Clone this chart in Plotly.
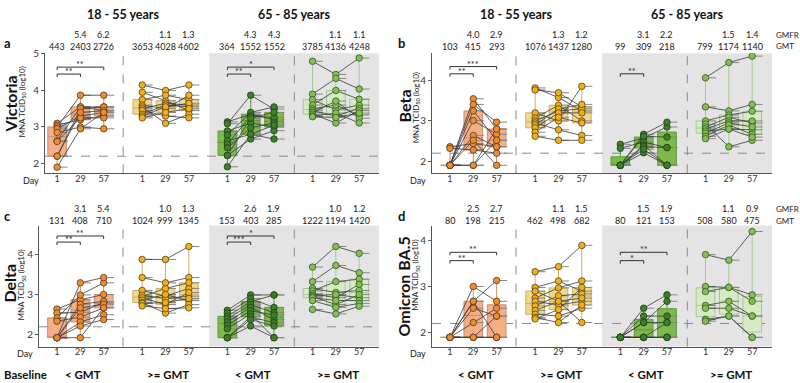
import plotly.graph_objects as go

W, H = 800, 383
FONT = "Lato"

# ---------------- labels ----------------
day_labels = ["1", "29", "57"]
group_labels = ["< GMT", ">= GMT", "< GMT", ">= GMT"]
age_labels = ["18 - 55 years", "65 - 85 years"]
variants = ["Victoria", "Beta", "Delta", "Omicron BA.5"]
panel_letters = ["a", "b", "c", "d"]
LLOQ = 2.2

# ---------------- data (log10 MNA TCID50), per subject, [day1, day29, day57] ----------------
# Panel a - Victoria
vic_young_low = [[3.1, 3.05, 3.0, 2.95, 2.85, 2.62, 2.6, 2.2, 2.2, 1.9],
                 [3.55, 3.2, 3.87, 3.3, 3.0, 3.55, 3.25, 3.5, 3.4, 2.95],
                 [3.45, 3.3, 3.87, 3.4, 2.95, 3.55, 3.25, 3.55, 3.45, 3.4]]
vic_young_high = [[4.15, 3.95, 3.75, 3.6, 3.55, 3.5, 3.45, 3.35, 3.3, 3.25],
                  [4.0, 3.72, 3.87, 3.5, 3.1, 3.65, 3.3, 3.6, 3.55, 3.4],
                  [4.15, 3.45, 3.75, 3.87, 3.35, 3.6, 3.25, 3.55, 3.65, 3.5]]
vic_old_low = [[3.14, 3.09, 2.89, 2.78, 2.62, 2.53, 2.43, 2.22, 2.22, 1.91],
               [3.35, 3.87, 3.11, 3.4, 2.8, 3.3, 2.98, 3.24, 2.67, 2.8],
               [3.2, 3.49, 3.0, 3.55, 2.67, 3.26, 3.11, 3.4, 2.9, 3.05]]
vic_old_high = [[4.8, 3.9, 3.75, 3.6, 3.5, 3.45, 3.4, 3.35, 3.3, 3.28],
                [4.44, 4.33, 3.47, 4.0, 3.6, 3.3, 3.71, 3.11, 3.38, 3.26],
                [4.89, 4.04, 3.6, 3.76, 3.33, 3.51, 3.24, 3.45, 3.11, 3.38]]
# Panel b - Beta
beta_young_low = [[2.36, 2.32, 1.9, 1.9, 1.9, 1.9, 1.9, 1.9, 1.9, 1.9],
                  [2.44, 2.28, 3.55, 3.41, 3.25, 3.01, 2.64, 2.52, 1.9, 1.9],
                  [2.36, 2.2, 2.8, 2.97, 2.52, 2.67, 2.36, 1.9, 2.52, 2.8]]
beta_young_high = [[3.82, 3.77, 3.2, 3.07, 3.0, 2.95, 2.9, 2.83, 2.72, 2.62],
                   [3.58, 3.7, 3.0, 3.39, 3.25, 2.78, 3.3, 3.2, 3.09, 2.52],
                   [3.25, 3.35, 3.86, 3.0, 3.3, 2.64, 3.41, 3.2, 2.95, 2.52]]
beta_old_low = [[2.42, 2.32, 1.9, 1.9, 1.9, 1.9, 1.9, 1.9],
                [2.58, 2.48, 2.67, 2.62, 2.4, 2.36, 2.21, 2.3],
                [2.85, 2.34, 2.97, 2.6, 1.9, 2.34, 1.9, 1.9]]
beta_old_high = [[4.07, 3.35, 3.0, 2.92, 2.85, 2.8, 2.75, 2.7, 2.62, 2.56],
                 [4.45, 3.25, 3.15, 2.36, 3.09, 3.0, 2.8, 2.95, 2.9, 2.8],
                 [4.61, 3.41, 3.24, 2.52, 2.95, 3.0, 2.78, 2.85, 2.67, 2.6]]
# Panel c - Delta
delta_young_low = [[2.64, 2.54, 2.42, 2.34, 1.93, 1.93, 1.93, 1.93, 1.93, 1.93],
                   [2.87, 2.56, 2.99, 2.44, 3.29, 2.76, 2.67, 2.32, 2.22, 1.93],
                   [3.0, 2.8, 3.29, 2.67, 3.42, 2.83, 2.76, 2.5, 2.38, 2.67]]
delta_young_high = [[3.87, 3.42, 3.1, 2.95, 2.98, 2.92, 2.86, 2.8, 2.78, 2.72],
                    [3.87, 3.29, 2.96, 3.15, 2.9, 2.75, 3.0, 2.54, 2.8, 2.65],
                    [4.19, 3.42, 3.15, 3.29, 2.96, 3.05, 2.85, 2.75, 2.9, 2.67]]
delta_old_low = [[2.61, 2.54, 2.46, 2.4, 2.32, 2.24, 2.15, 1.93, 1.93, 1.93],
                 [2.99, 2.9, 2.82, 2.75, 2.68, 2.6, 2.52, 2.45, 2.38, 2.22],
                 [2.99, 2.68, 2.99, 2.55, 2.38, 2.49, 1.93, 2.3, 2.22, 1.93]]
delta_old_high = [[3.68, 3.32, 3.15, 3.09, 3.02, 2.98, 2.95, 2.92, 2.85, 2.63],
                  [4.19, 3.72, 3.05, 3.32, 2.92, 3.0, 2.75, 2.85, 2.68, 2.52],
                  [4.02, 3.54, 3.1, 3.38, 3.25, 2.92, 3.0, 2.85, 2.78, 2.71]]
# Panel d - Omicron BA.5
omi_young_low = [[1.9, 1.9, 1.9, 1.9, 1.9, 1.9, 1.9, 1.9],
                 [3.0, 2.68, 2.53, 2.22, 1.9, 1.9, 2.68, 1.9],
                 [2.68, 3.13, 2.36, 2.53, 2.36, 1.9, 1.9, 1.9]]
omi_young_high = [[3.32, 2.98, 2.9, 2.75, 2.68, 2.58, 2.48, 2.4, 2.33, 2.3],
                  [3.43, 3.12, 2.68, 2.97, 2.6, 2.8, 2.68, 2.36, 2.22, 2.5],
                  [3.89, 2.9, 2.22, 3.12, 2.68, 2.84, 2.75, 2.53, 2.6, 2.98]]
omi_old_low = [[1.9, 1.9, 1.9, 1.9, 1.9, 1.9, 1.9, 1.9],
               [2.53, 2.36, 2.22, 1.9, 1.9, 2.22, 1.9, 1.9],
               [2.82, 2.36, 2.68, 2.22, 1.9, 2.22, 1.9, 1.9]]
omi_old_high = [[3.69, 3.0, 2.89, 2.59, 2.53, 2.29, 2.25],
                [3.57, 2.98, 2.98, 2.68, 2.53, 2.36, 2.36],
                [4.19, 2.82, 2.68, 2.36, 2.36, 1.9, 1.9]]

# GMT / GMFR rows (12 columns: 4 groups x 3 days)
gmt_a = [443, 2403, 2726, 3653, 4028, 4602, 364, 1552, 1552, 3785, 4136, 4248]
gmfr_a = ["", "5.4", "6.2", "", "1.1", "1.3", "", "4.3", "4.3", "", "1.1", "1.1"]
gmt_b = [103, 415, 293, 1076, 1437, 1280, 99, 309, 218, 799, 1174, 1140]
gmfr_b = ["", "4.0", "2.9", "", "1.3", "1.2", "", "3.1", "2.2", "", "1.5", "1.4"]
gmt_c = [131, 408, 710, 1024, 999, 1345, 153, 403, 285, 1222, 1194, 1420]
gmfr_c = ["", "3.1", "5.4", "", "1.0", "1.3", "", "2.6", "1.9", "", "1.0", "1.2"]
gmt_d = [80, 198, 215, 462, 498, 682, 80, 121, 153, 508, 580, 475]
gmfr_d = ["", "2.5", "2.7", "", "1.1", "1.5", "", "1.5", "1.9", "", "1.1", "0.9"]

# significance: (group index, end day index, label)
sig_a = [(0, 1, "**"), (0, 2, "**"), (2, 1, "**"), (2, 2, "*")]
sig_b = [(0, 1, "**"), (0, 2, "***"), (2, 1, "**")]
sig_c = [(0, 1, "**"), (0, 2, "**"), (2, 1, "***"), (2, 2, "*")]
sig_d = [(0, 1, "**"), (0, 2, "**"), (2, 1, "*"), (2, 2, "**")]

panel_groups = [
    [vic_young_low, vic_young_high, vic_old_low, vic_old_high],
    [beta_young_low, beta_young_high, beta_old_low, beta_old_high],
    [delta_young_low, delta_young_high, delta_old_low, delta_old_high],
    [omi_young_low, omi_young_high, omi_old_low, omi_old_high],
]
panel_gmt = [gmt_a, gmt_b, gmt_c, gmt_d]
panel_gmfr = [gmfr_a, gmfr_b, gmfr_c, gmfr_d]
panel_sig = [sig_a, sig_b, sig_c, sig_d]

# ---------------- styling / layout geometry ----------------
group_offsets = [0.0, 3.65, 7.3, 10.95]
XMAX = 13.8
SHADE_X0 = 6.52
SEPS = [2.83, 10.17]

box_fill = ["#F6AE86", "#F3D88C", "#7DB94B", "#D6EBC3"]
box_line = ["#C9906E", "#C8B070", "#5E9A38", "#A9C79A"]
mark_col = ["#F28C28", "#F6B00E", "#3F7F2A", "#86BD55"]
mark_edge = ["#4a3a30", "#4a4030", "#1f3d15", "#2f5a20"]

# pixel geometry of the four panels: x0,x1,y0(top),y1(bottom)
geo = [
    dict(x0=45, x1=379, y0=48, y1=170, ymin=1.73, ymax=5.02, xmin=-0.52, yt=[2, 3, 4, 5],
         gmfr_y=29, gmt_y=41, bracket_y=[4.45, 4.64], vy=100, my=98),
    dict(x0=432, x1=772, y0=48, y1=170, ymin=1.70, ymax=4.68, xmin=-0.77, yt=[2, 3, 4],
         gmfr_y=29, gmt_y=41, bracket_y=[4.17, 4.35], vy=102, my=104),
    dict(x0=39, x1=379, y0=223, y1=346, ymin=1.71, ymax=4.71, xmin=-0.77, yt=[2, 3, 4],
         gmfr_y=206, gmt_y=218, bracket_y=[4.30, 4.45], vy=282, my=284),
    dict(x0=432, x1=772, y0=223, y1=346, ymin=1.70, ymax=4.32, xmin=-0.77, yt=[2, 3, 4],
         gmfr_y=206, gmt_y=218, bracket_y=[3.56, 3.74], vy=285, my=274),
]


def py(p):
    return 1 - p / H


def px(p):
    return p / W


def ann(**kw):
    kw.setdefault("showarrow", False)
    kw.setdefault("xanchor", "center")
    kw.setdefault("yanchor", "middle")
    return kw


fig = go.Figure()
shapes = []
annotations = []
layout_axes = {}

tickvals = [g + k for g in group_offsets for k in range(3)]
ticktext = day_labels * 4

for p, gdef in enumerate(geo):
    sfx = "" if p == 0 else str(p + 1)
    xr, yr = "x" + sfx, "y" + sfx
    layout_axes["xaxis" + sfx] = dict(
        domain=[px(gdef["x0"]), px(gdef["x1"])], range=[gdef["xmin"], XMAX], anchor=yr,
        tickvals=tickvals, ticktext=ticktext, showgrid=False, zeroline=False,
        showline=True, linecolor="#555", linewidth=1, ticks="", ticklabelstandoff=-3,
        tickfont=dict(size=9, color="#333", family=FONT), fixedrange=True)
    layout_axes["yaxis" + sfx] = dict(
        domain=[py(gdef["y1"]), py(gdef["y0"])], range=[gdef["ymin"], gdef["ymax"]], anchor=xr,
        tickvals=gdef["yt"], showgrid=False, zeroline=False, showline=True, linecolor="#555",
        linewidth=1, ticks="outside", ticklen=3, tickcolor="#555",
        tickfont=dict(size=10, color="#333", family=FONT), fixedrange=True)

    # shaded 65-85 region
    shapes.append(dict(type="rect", xref=xr, yref=yr + " domain", x0=SHADE_X0, x1=XMAX, y0=0, y1=1,
                       fillcolor="#E4E4E4", line=dict(width=0), layer="below"))
    for s in SEPS:
        shapes.append(dict(type="line", xref=xr, yref=yr + " domain", x0=s, x1=s, y0=0, y1=1,
                           line=dict(color="#8a8a8a", width=1, dash="dash"), layer="below"))
    shapes.append(dict(type="line", xref=xr + " domain", yref=yr, x0=0, x1=1, y0=LLOQ, y1=LLOQ,
                       line=dict(color="#8a8a8a", width=1, dash="dash"), layer="below"))

    groups = panel_groups[p]
    for g, data in enumerate(groups):
        pos = [group_offsets[g] + k for k in range(3)]
        bx, by = [], []
        for k in range(3):
            bx += [pos[k]] * len(data[k])
            by += data[k]
        fig.add_trace(go.Box(x=bx, y=by, xaxis=xr, yaxis=yr, width=0.8, fillcolor=box_fill[g],
                             line=dict(color=box_line[g], width=1), boxpoints=False, whiskerwidth=0,
                             hoverinfo="skip", showlegend=False))
        # small dashes to the right of each point
        tx, ty = [], []
        for k in range(3):
            tx += [pos[k] + 0.27] * len(data[k])
            ty += data[k]
        fig.add_trace(go.Scatter(x=tx, y=ty, xaxis=xr, yaxis=yr, mode="markers",
                                 marker=dict(symbol="line-ew", size=6, line=dict(color="#888", width=1)),
                                 hoverinfo="skip", showlegend=False))
        # subject trajectories
        lx, ly = [], []
        for s in range(len(data[0])):
            lx += pos + [None]
            ly += [data[0][s], data[1][s], data[2][s], None]
        fig.add_trace(go.Scatter(x=lx, y=ly, xaxis=xr, yaxis=yr, mode="lines+markers",
                                 line=dict(color="#3a3a3a", width=0.8),
                                 marker=dict(size=6.5, color=mark_col[g], line=dict(color=mark_edge[g], width=0.8)),
                                 hoverinfo="skip", showlegend=False))

    # significance brackets
    span = gdef["ymax"] - gdef["ymin"]
    hpx = gdef["y1"] - gdef["y0"]
    tick = 3 * span / hpx
    for (g, kend, lab) in panel_sig[p]:
        yb = gdef["bracket_y"][kend - 1]
        x1 = group_offsets[g]
        x2 = group_offsets[g] + kend
        fig.add_trace(go.Scatter(x=[x1, x1, x2, x2], y=[yb - tick, yb, yb, yb - tick], xaxis=xr, yaxis=yr,
                                 mode="lines", line=dict(color="#333", width=1), hoverinfo="skip",
                                 showlegend=False))
        annotations.append(ann(x=(x1 + x2) / 2, y=yb, xref=xr, yref=yr, text=lab,
                               yanchor="bottom", yshift=-5, font=dict(size=9, color="#222", family=FONT)))

    # GMT / GMFR rows
    for i, xv in enumerate(tickvals):
        annotations.append(ann(x=xv, y=py(gdef["gmt_y"]), xref=xr, yref="paper", text=str(panel_gmt[p][i]),
                               font=dict(size=9, color="#222", family=FONT)))
        if panel_gmfr[p][i]:
            annotations.append(ann(x=xv, y=py(gdef["gmfr_y"]), xref=xr, yref="paper", text=panel_gmfr[p][i],
                                   font=dict(size=9, color="#222", family=FONT)))
    if p in (1, 3):
        annotations.append(ann(x=px(774), y=py(gdef["gmfr_y"]), xref="paper", yref="paper", text="GMFR",
                               xanchor="left", font=dict(size=8, color="#222", family=FONT)))
        annotations.append(ann(x=px(774), y=py(gdef["gmt_y"]), xref="paper", yref="paper", text="GMT",
                               xanchor="left", font=dict(size=8, color="#222", family=FONT)))

    # age titles (top row only)
    if p in (0, 1):
        for j, s in enumerate(SEPS):
            annotations.append(ann(x=s, y=py(9), xref=xr, yref="paper", text=age_labels[j],
                                   font=dict(size=12.5, color="#111", family=FONT, weight="bold")))
    # baseline labels (bottom row only)
    if p in (2, 3):
        for g in range(4):
            annotations.append(ann(x=group_offsets[g] + 1.1, y=py(374), xref=xr, yref="paper",
                                   text=group_labels[g],
                                   font=dict(size=11.5, color="#111", family=FONT, weight="bold")))

    # "Day" label
    left = gdef["x0"]
    annotations.append(ann(x=px(left - 4), y=py(gdef["y1"] + 7), xref="paper", yref="paper", text="Day",
                           xanchor="right", font=dict(size=9, color="#222", family=FONT)))

    # panel letter, variant, axis title
    base_x = 0 if p in (0, 2) else 394
    annotations.append(ann(x=px(base_x + 2), y=py(gdef["y0"] - 10), xref="paper", yref="paper",
                           text=panel_letters[p], xanchor="left",
                           font=dict(size=13, color="#111", family=FONT, weight="bold")))
    annotations.append(ann(x=px(base_x + 10), y=py(gdef["vy"]), xref="paper", yref="paper", text=variants[p],
                           textangle=-90,
                           font=dict(size=16, color="#111", family=FONT, weight="bold")))
    annotations.append(ann(x=px(base_x + 22), y=py(gdef["my"]), xref="paper", yref="paper",
                           text="MNA TCID<sub>50</sub> (log10)", textangle=-90,
                           font=dict(size=8, color="#222", family=FONT)))

annotations.append(ann(x=px(2), y=py(374), xref="paper", yref="paper", text="Baseline", xanchor="left",
                       font=dict(size=11.5, color="#111", family=FONT, weight="bold")))

fig.update_layout(
    width=W, height=H, autosize=False,
    margin=dict(l=0, r=0, t=0, b=0),
    paper_bgcolor="white", plot_bgcolor="white",
    showlegend=False, boxmode="overlay",
    shapes=shapes, annotations=annotations,
    font=dict(family=FONT),
    **layout_axes,
)

fig.write_html("out.html", config={"displayModeBar": False},
               post_script="document.body.style.margin='0px';document.body.style.padding='0px';")
